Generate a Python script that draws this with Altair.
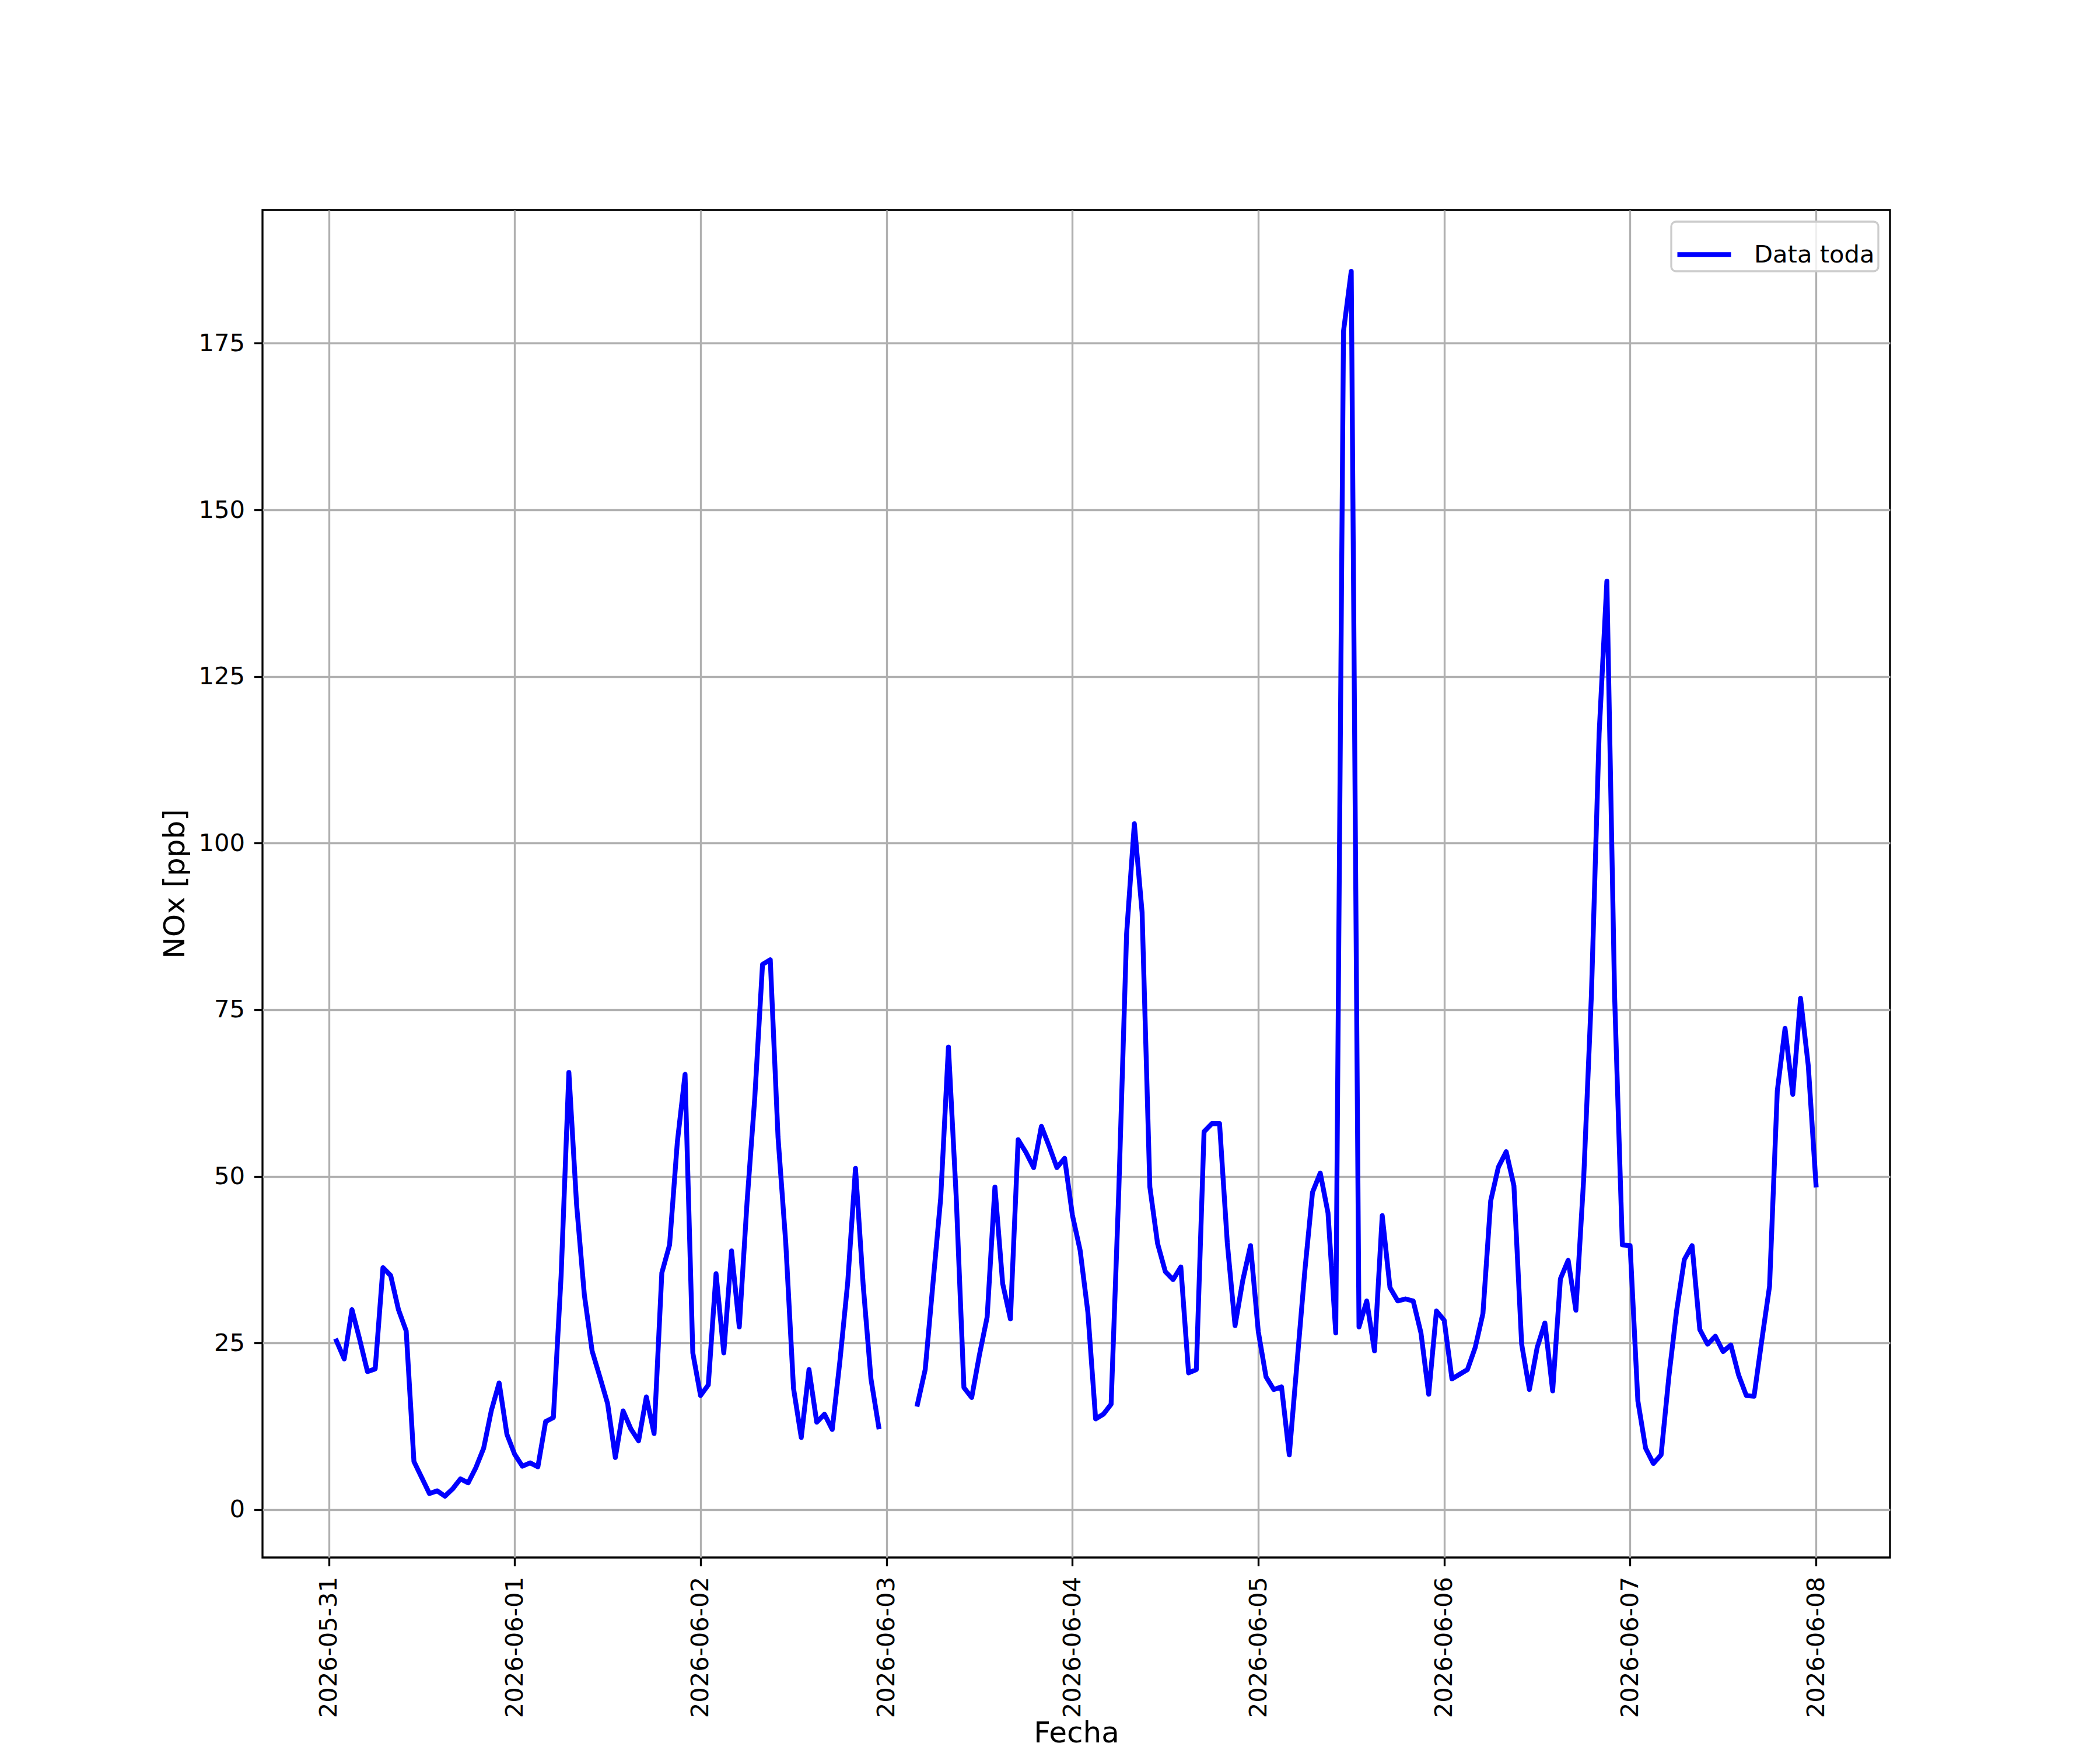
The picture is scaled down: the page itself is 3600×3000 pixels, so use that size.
import altair as alt
import pandas as pd

# Hourly NOx values (ppb); None = missing hour
d0531 = [25.3, 22.6, 30.0, 25.5, 20.7, 21.1, 36.3, 35.1, 30.0, 26.8, 7.2, 4.8,
         2.4, 2.8, 2.0, 3.1, 4.6, 4.0, 6.3, 9.2, 14.9, 19.0, 11.3]          # 01:00-23:00
d0601 = [8.3, 6.5, 7.0, 6.4, 13.2, 13.8, 35.1, 65.6, 45.7, 32.2, 23.8, 19.9,
         15.9, 7.8, 14.8, 12.1, 10.3, 16.9, 11.4, 35.5, 39.7, 55.1, 65.3, 23.5]
d0602 = [17.1, 18.7, 35.4, 23.5, 38.8, 27.4, 46.1, 61.8, 81.8, 82.5, 55.9, 40.0,
         18.2, 10.8, 21.0, 13.1, 14.3, 12.0, 22.4, 34.1, 51.2, 33.6, 19.6, 12.4]
d0603 = [None, None, None, None, 15.8, 21.0, 33.9, 46.7, 69.4, 47.0, 18.3, 16.8,
         23.2, 28.9, 48.4, 33.9, 28.6, 55.5, 53.6, 51.3, 57.5, 54.5, 51.3, 52.7]
d0604 = [44.2, 38.9, 29.6, 13.6, 14.3, 15.8, 48.1, 86.4, 102.9, 89.6, 48.4, 39.9,
         35.7, 34.5, 36.4, 20.5, 21.0, 56.7, 57.9, 57.9, 40.0, 27.6, 34.4, 39.6]
d0605 = [26.7, 19.9, 18.0, 18.4, 8.2, 22.0, 35.7, 47.6, 50.5, 44.5, 26.5, 176.8,
         185.8, 27.4, 31.3, 23.8, 44.1, 33.3, 31.3, 31.6, 31.3, 26.5, 17.3, 29.8]
d0606 = [28.4, 19.6, 20.3, 21.0, 24.3, 29.4, 46.3, 51.4, 53.7, 48.6, 24.8, 18.0,
         24.3, 28.0, 17.8, 34.6, 37.4, 29.9, 49.5, 77.1, 116.4, 139.3, 77.0, 39.7]
d0607 = [39.6, 16.3, 9.2, 6.9, 8.2, 19.9, 29.8, 37.5, 39.6, 27.0, 24.8, 26.0,
         23.7, 24.7, 20.2, 17.1, 17.0, 25.4, 33.5, 62.8, 72.2, 62.3, 76.7, 66.6]
d0608 = [48.7]                                                              # 00:00

series_name = "Data toda"
x_ticks = ["2026-05-31", "2026-06-01", "2026-06-02", "2026-06-03", "2026-06-04",
           "2026-06-05", "2026-06-06", "2026-06-07", "2026-06-08"]
y_ticks = [0, 25, 50, 75, 100, 125, 150, 175]

values = d0531 + d0601 + d0602 + d0603 + d0604 + d0605 + d0606 + d0607 + d0608
times = pd.date_range("2026-05-31 01:00", periods=len(values), freq="h")
df = pd.DataFrame({"fecha": times.strftime("%Y-%m-%dT%H:%M:%S"), "nox": values})
df["tramo"] = df["nox"].isna().cumsum()
df = df.dropna().reset_index(drop=True)
df["serie"] = series_name


def dt(s, h=0, m=0):
    t = pd.Timestamp(s)
    return alt.DateTime(year=t.year, month=t.month, date=t.day, hours=h, minutes=m)


x_values = [dt(s) for s in x_ticks]
x_domain = [dt("2026-05-30", 15, 27), dt("2026-06-08", 9, 33)]

FONT = "DejaVu Sans"
LW = 3.33

chart = alt.Chart(df).mark_line(
    strokeWidth=8.33, strokeJoin="round", strokeCap="square"
).encode(
    x=alt.X(
        "fecha:T",
        title="Fecha",
        scale=alt.Scale(domain=x_domain, nice=False),
        axis=alt.Axis(
            values=x_values, format="%Y-%m-%d", labelAngle=270,
            labelAlign="right", labelBaseline="middle", labelPadding=18,
            titlePadding=76, labelOverlap=False, labelFlush=False, labelLimit=0,
        ),
    ),
    y=alt.Y(
        "nox:Q",
        title="NOx [ppb]",
        scale=alt.Scale(domain=[-7.2, 195.0], nice=False, zero=False),
        axis=alt.Axis(values=y_ticks, labelPadding=16, titlePadding=14),
    ),
    detail="tramo:N",
    color=alt.Color(
        "serie:N",
        scale=alt.Scale(range=["#0000ff"]),
        legend=alt.Legend(
            title=None, orient="top-right", offset=20, symbolType="stroke",
            symbolSize=8464, symbolStrokeWidth=8.33, labelOffset=35, padding=6,
            labelLimit=0,
        ),
    ),
).properties(
    width=2790,
    height=2310,
    autosize=alt.AutoSizeParams(type="none"),
    padding={"left": 442, "top": 352, "right": 352, "bottom": 360},
).configure_view(
    stroke="black", strokeWidth=LW
).configure_axis(
    labelFont=FONT, labelFontSize=41.67, labelColor="black",
    titleFont=FONT, titleFontSize=50, titleFontWeight="normal", titleColor="black",
    tickSize=14.6, tickWidth=LW, tickColor="black",
    gridColor="#b0b0b0", gridWidth=LW, domain=False,
).configure_legend(
    labelFont=FONT, labelFontSize=41.67, labelColor="black",
    strokeColor="#cccccc", strokeWidth=LW, fillColor="rgba(255,255,255,0.8)",
    cornerRadius=8,
)

chart.save("out.html", embed_options={"renderer": "svg", "actions": False})
